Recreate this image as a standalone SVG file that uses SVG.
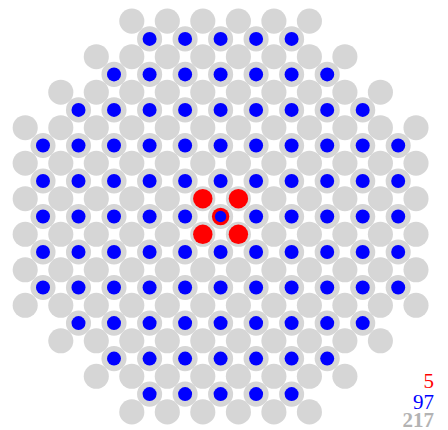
<svg xmlns="http://www.w3.org/2000/svg" xmlns:xlink="http://www.w3.org/1999/xlink" width="448" height="430" viewBox="0 0 448 430">
<style>
.num{font-family:"Liberation Serif","Times New Roman",serif;font-size:21px;text-anchor:end}
</style>
<defs>
<g id="go6"><circle cx="131.8" r="12.55"/><circle cx="167.3" r="12.55"/><circle cx="202.8" r="12.55"/><circle cx="238.4" r="12.55"/><circle cx="273.9" r="12.55"/><circle cx="309.4" r="12.55"/></g>
<g id="go8"><use href="#go6" xlink:href="#go6"/><circle cx="96.3" r="12.55"/><circle cx="344.9" r="12.55"/></g>
<g id="go10"><use href="#go8" xlink:href="#go8"/><circle cx="60.8" r="12.55"/><circle cx="380.4" r="12.55"/></g>
<g id="go12"><use href="#go10" xlink:href="#go10"/><circle cx="25.2" r="12.55"/><circle cx="416" r="12.55"/></g>
<g id="ge5"><circle cx="149.6" r="12.55"/><circle cx="185.1" r="12.55"/><circle cx="220.6" r="12.55"/><circle cx="256.1" r="12.55"/><circle cx="291.6" r="12.55"/></g>
<g id="ge7"><use href="#ge5" xlink:href="#ge5"/><circle cx="114" r="12.55"/><circle cx="327.2" r="12.55"/></g>
<g id="ge9"><use href="#ge7" xlink:href="#ge7"/><circle cx="78.5" r="12.55"/><circle cx="362.7" r="12.55"/></g>
<g id="ge11"><use href="#ge9" xlink:href="#ge9"/><circle cx="43" r="12.55"/><circle cx="398.2" r="12.55"/></g>
<g id="be5"><circle cx="149.6" r="7"/><circle cx="185.1" r="7"/><circle cx="220.6" r="7"/><circle cx="256.1" r="7"/><circle cx="291.6" r="7"/></g>
<g id="be7"><use href="#be5" xlink:href="#be5"/><circle cx="114" r="7"/><circle cx="327.2" r="7"/></g>
<g id="be9"><use href="#be7" xlink:href="#be7"/><circle cx="78.5" r="7"/><circle cx="362.7" r="7"/></g>
<g id="be11"><use href="#be9" xlink:href="#be9"/><circle cx="43" r="7"/><circle cx="398.2" r="7"/></g>
</defs>
<g id="gray" fill="#d6d6d6">
<use href="#go6" xlink:href="#go6" y="21.1"/>
<use href="#ge5" xlink:href="#ge5" y="38.9"/>
<use href="#go8" xlink:href="#go8" y="56.7"/>
<use href="#ge7" xlink:href="#ge7" y="74.4"/>
<use href="#go10" xlink:href="#go10" y="92.2"/>
<use href="#ge9" xlink:href="#ge9" y="109.9"/>
<use href="#go12" xlink:href="#go12" y="127.7"/>
<use href="#ge11" xlink:href="#ge11" y="145.5"/>
<use href="#go12" xlink:href="#go12" y="163.2"/>
<use href="#ge11" xlink:href="#ge11" y="181"/>
<use href="#go12" xlink:href="#go12" y="198.7"/>
<use href="#ge11" xlink:href="#ge11" y="216.5"/>
<use href="#go12" xlink:href="#go12" y="234.3"/>
<use href="#ge11" xlink:href="#ge11" y="252"/>
<use href="#go12" xlink:href="#go12" y="269.8"/>
<use href="#ge11" xlink:href="#ge11" y="287.5"/>
<use href="#go12" xlink:href="#go12" y="305.3"/>
<use href="#ge9" xlink:href="#ge9" y="323.1"/>
<use href="#go10" xlink:href="#go10" y="340.8"/>
<use href="#ge7" xlink:href="#ge7" y="358.6"/>
<use href="#go8" xlink:href="#go8" y="376.3"/>
<use href="#ge5" xlink:href="#ge5" y="394.1"/>
<use href="#go6" xlink:href="#go6" y="411.9"/>
</g>
<g id="blue" fill="#0000ff">
<use href="#be5" xlink:href="#be5" y="38.9"/>
<use href="#be7" xlink:href="#be7" y="74.4"/>
<use href="#be9" xlink:href="#be9" y="109.9"/>
<use href="#be11" xlink:href="#be11" y="145.5"/>
<use href="#be11" xlink:href="#be11" y="181"/>
<use href="#be11" xlink:href="#be11" y="216.5"/>
<use href="#be11" xlink:href="#be11" y="252"/>
<use href="#be11" xlink:href="#be11" y="287.5"/>
<use href="#be9" xlink:href="#be9" y="323.1"/>
<use href="#be7" xlink:href="#be7" y="358.6"/>
<use href="#be5" xlink:href="#be5" y="394.1"/>
</g>
<g id="red" fill="#ff0000">
<circle cx="202.8" cy="198.7" r="9.7"/>
<circle cx="238.4" cy="198.7" r="9.7"/>
<circle cx="202.8" cy="234.3" r="9.7"/>
<circle cx="238.4" cy="234.3" r="9.7"/>
<circle cx="220.6" cy="216.5" r="8.7"/>
<circle cx="220.6" cy="216.5" r="5.7" fill="#0000ff"/>
</g>
<g id="counts">
<text class="num" x="434" y="388" fill="#ff0000">5</text>
<text class="num" x="434" y="408.5" fill="#0000ff">97</text>
<text class="num" x="434" y="426.5" fill="#b3b3b3" font-weight="bold">217</text>
</g>
</svg>
